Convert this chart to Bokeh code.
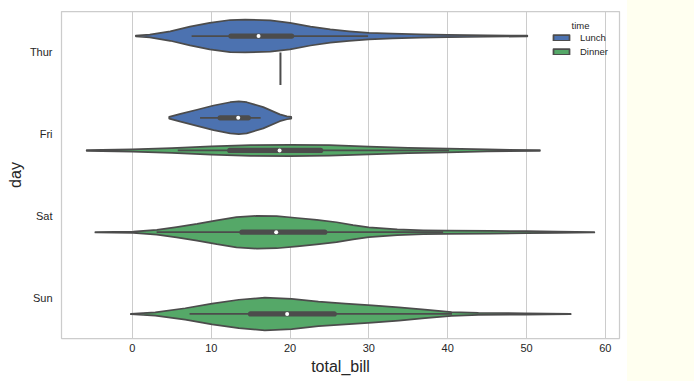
from bokeh.plotting import figure
from bokeh.models import Range1d, FixedTicker, Legend, LegendItem, Label, Spacer
from bokeh.layouts import row
from bokeh.embed import file_html
from bokeh.resources import INLINE

# ---------------- data ----------------
days = ["Thur", "Fri", "Sat", "Sun"]
times = ["Lunch", "Dinner"]
x_ticks = [0, 10, 20, 30, 40, 50, 60]

# violin outlines: total_bill support points and density relative to the widest violin of the day
thur_lunch_bill = [0.43, 2.2, 4.8, 7.3, 9.8, 12.4, 14.3, 17.5, 20.0, 22.6, 25.1, 27.5, 30.0, 33.0, 36.5, 40.0, 45.0, 50.1]
thur_lunch_dens = [0.02, 0.08, 0.29, 0.57, 0.81, 0.98, 1.00, 0.96, 0.81, 0.58, 0.40, 0.29, 0.20, 0.14, 0.10, 0.07, 0.04, 0.02]

fri_lunch_bill = [4.67, 6.1, 8.2, 10.3, 12.4, 13.5, 14.5, 16.6, 18.7, 19.6, 20.15]
fri_lunch_dens = [0.05, 0.24, 0.49, 0.75, 0.95, 1.00, 0.95, 0.65, 0.21, 0.09, 0.05]

fri_dinner_bill = [-5.8, 0.0, 5.0, 10.0, 15.0, 20.0, 25.0, 30.0, 35.0, 40.0, 45.0, 51.7]
fri_dinner_dens = [0.02, 0.07, 0.15, 0.25, 0.33, 0.35, 0.32, 0.24, 0.16, 0.11, 0.06, 0.02]

sat_dinner_bill = [-4.7, 0.1, 3.1, 5.6, 8.2, 10.7, 13.2, 15.8, 18.3, 20.9, 23.4, 25.9, 28.0, 30.0, 33.6, 36.9, 39.9, 45.4, 50.0, 53.9, 58.6]
sat_dinner_dens = [0.01, 0.04, 0.14, 0.31, 0.51, 0.73, 0.92, 1.00, 0.98, 0.87, 0.75, 0.61, 0.44, 0.30, 0.17, 0.12, 0.10, 0.08, 0.06, 0.04, 0.01]

sun_dinner_bill = [-0.2, 2.9, 6.7, 10.1, 13.5, 16.8, 20.2, 23.6, 27.0, 30.4, 33.8, 37.1, 40.5, 43.9, 49.8, 55.6]
sun_dinner_dens = [0.01, 0.10, 0.35, 0.63, 0.87, 1.00, 0.92, 0.75, 0.63, 0.53, 0.41, 0.26, 0.12, 0.06, 0.04, 0.01]

# inner box statistics per violin
box_day = ["Thur", "Fri", "Fri", "Sat", "Sun"]
box_time = ["Lunch", "Lunch", "Dinner", "Dinner", "Dinner"]
box_q1 = [12.5, 11.13, 12.35, 13.9, 14.99]
box_median = [16.0, 13.42, 18.67, 18.24, 19.63]
box_q3 = [20.2, 14.7, 23.88, 24.4, 25.6]
box_whisk_lo = [7.51, 8.58, 5.75, 3.07, 7.25]
box_whisk_hi = [29.9, 16.27, 40.17, 39.42, 40.55]

# Thursday dinner has a single observation
thur_dinner_single = [18.78]

# ---------------- styling ----------------
COLORS = {"Lunch": "#4c72b0", "Dinner": "#55a868"}
GRAY = "#4c4c4c"
TEXT = "#262626"
FONT = "Liberation Sans"
HALF = 0.2      # max half-width of a violin (category units)
OFFSET = {"Lunch": -0.2, "Dinner": 0.2}

p = figure(width=627, height=381, x_range=Range1d(-9.0, 61.8), y_range=Range1d(3.5, -0.5),
           output_backend="svg", toolbar_location=None,
           min_border_left=61, min_border_right=8, min_border_top=11, min_border_bottom=43)
p.background_fill_color = "white"
p.border_fill_color = "white"
p.outline_line_color = "#cccccc"
p.outline_line_width = 1.25

def center(day, time):
    return days.index(day) + OFFSET[time]

violins = [("Thur", "Lunch", thur_lunch_bill, thur_lunch_dens),
           ("Fri", "Lunch", fri_lunch_bill, fri_lunch_dens),
           ("Fri", "Dinner", fri_dinner_bill, fri_dinner_dens),
           ("Sat", "Dinner", sat_dinner_bill, sat_dinner_dens),
           ("Sun", "Dinner", sun_dinner_bill, sun_dinner_dens)]

renderers = {}
for day, time, bill, dens in violins:
    c = center(day, time)
    xs = list(bill) + list(bill[::-1])
    ys = [c - d * HALF for d in dens] + [c + d * HALF for d in dens[::-1]]
    r = p.patch(xs, ys, fill_color=COLORS[time], line_color=GRAY, line_width=1.75, line_join="round")
    renderers.setdefault(time, r)

# single observation
c = center("Thur", "Dinner")
p.segment(x0=thur_dinner_single, y0=[c - HALF], x1=thur_dinner_single, y1=[c + HALF],
          line_color=GRAY, line_width=2)

# inner boxes
ys = [center(d, t) for d, t in zip(box_day, box_time)]
p.segment(x0=box_whisk_lo, y0=ys, x1=box_whisk_hi, y1=ys, line_color=GRAY, line_width=1.75)
p.segment(x0=box_q1, y0=ys, x1=box_q3, y1=ys, line_color=GRAY, line_width=5.25, line_cap="round")
p.scatter(box_median, ys, size=4, fill_color="white", line_color=None)

# axes
p.xaxis.ticker = FixedTicker(ticks=x_ticks)
p.xgrid.ticker = FixedTicker(ticks=x_ticks)
p.yaxis.ticker = FixedTicker(ticks=list(range(len(days))))
p.yaxis.major_label_overrides = {i: d for i, d in enumerate(days)}
p.xgrid.grid_line_color = "#cccccc"
p.xgrid.grid_line_width = 1
p.ygrid.grid_line_color = None
for ax in (p.xaxis, p.yaxis):
    ax.axis_line_color = None
    ax.major_tick_line_color = None
    ax.minor_tick_line_color = None
    ax.major_tick_out = 0
    ax.major_tick_in = 0
    ax.minor_tick_out = 0
    ax.minor_tick_in = 0
    ax.major_label_text_font = FONT
    ax.major_label_text_font_size = "11px"
    ax.major_label_text_color = TEXT
    ax.axis_label_text_font = FONT
    ax.axis_label_text_font_size = "16px"
    ax.axis_label_text_font_style = "normal"
    ax.axis_label_text_color = TEXT
p.xaxis.axis_label = "total_bill"
p.yaxis.axis_label = "day"
p.xaxis.major_label_standoff = 5
p.xaxis.axis_label_standoff = 3
p.yaxis.major_label_standoff = 9
p.yaxis.axis_label_standoff = 3

legend = Legend(items=[LegendItem(label=t, renderers=[renderers[t]]) for t in times],
                location=(490, 281), glyph_width=20, glyph_height=7,
                label_text_font=FONT, label_text_font_size="9.5px", label_text_color=TEXT,
                label_height=11, spacing=3, padding=0, margin=0, label_standoff=9,
                border_line_color=None, background_fill_alpha=0)
p.add_layout(legend)
p.add_layout(Label(x=519, y=313.3, x_units="screen", y_units="screen", text="time",
                   text_align="center", text_baseline="middle", text_font=FONT,
                   text_font_size="9.5px", text_color=TEXT))

strip = Spacer(width=67, height=381, styles={"background-color": "#fffff0"})
layout = row(p, strip)

open("out.html", "w").write(file_html(layout, INLINE))
